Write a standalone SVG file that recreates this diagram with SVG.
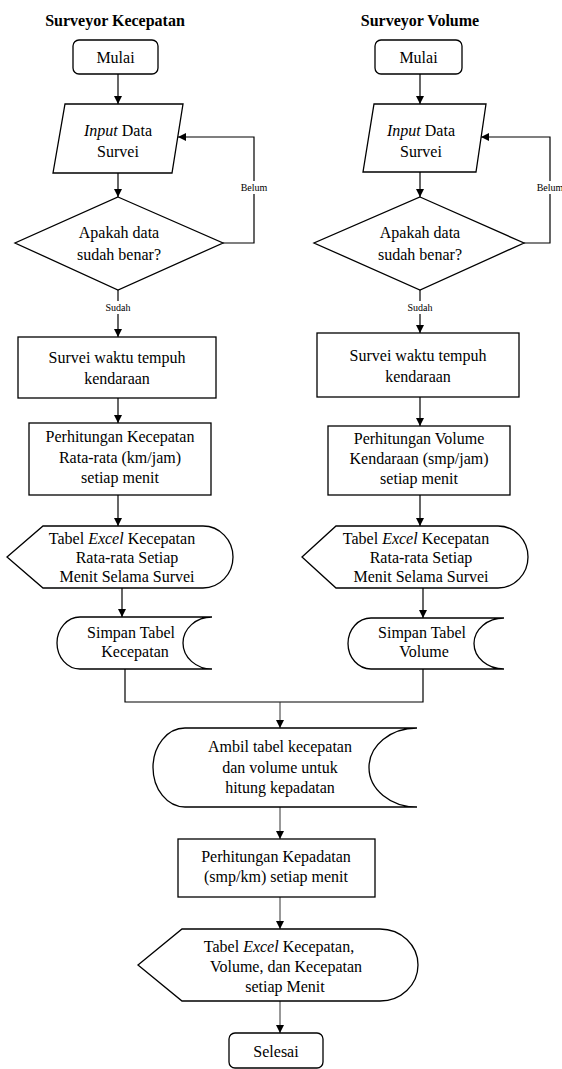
<svg xmlns="http://www.w3.org/2000/svg" width="562" height="1069" viewBox="0 0 562 1069">
<style>
.s{fill:#fff;stroke:#000;stroke-width:1.3}
.c{fill:none;stroke:#000;stroke-width:1.2}
.c2{fill:none;stroke:#333;stroke-width:1}
text{font-family:'Liberation Serif','DejaVu Serif',serif;font-size:16px;fill:#000;text-anchor:middle}
.t{font-weight:bold}
.sm{font-size:10px}
.lb{fill:#fff;stroke:none}
</style>
<defs>
<marker id="ah" markerWidth="8" markerHeight="8" refX="8" refY="4" orient="auto" markerUnits="userSpaceOnUse">
<path d="M0,0 L8,4 L0,8 Z" fill="#000"/>
</marker>
</defs>

<g font-family="Liberation Serif, DejaVu Serif, serif">
<text class="t" x="115" y="26">Surveyor Kecepatan</text>
<text class="t" x="420" y="26">Surveyor Volume</text>

<g id="connectors">
<line class="c" x1="118" y1="74" x2="118" y2="104" marker-end="url(#ah)"/>
<line class="c" x1="118" y1="173" x2="118" y2="197" marker-end="url(#ah)"/>
<polyline class="c" points="223,243 254,243 254,137 178,137" marker-end="url(#ah)"/>
<line class="c" x1="118" y1="290" x2="118" y2="337" marker-end="url(#ah)"/>
<line class="c" x1="118" y1="398" x2="118" y2="423" marker-end="url(#ah)"/>
<line class="c" x1="118" y1="495" x2="118" y2="526" marker-end="url(#ah)"/>
<line class="c" x1="122" y1="588" x2="122" y2="617" marker-end="url(#ah)"/>

<line class="c" x1="420" y1="74" x2="420" y2="104" marker-end="url(#ah)"/>
<line class="c" x1="420" y1="172" x2="420" y2="197" marker-end="url(#ah)"/>
<polyline class="c" points="524,243 550,243 550,137 481,137" marker-end="url(#ah)"/>
<line class="c" x1="420" y1="290" x2="420" y2="333" marker-end="url(#ah)"/>
<line class="c" x1="420" y1="397" x2="420" y2="426" marker-end="url(#ah)"/>
<line class="c" x1="420" y1="495" x2="420" y2="526" marker-end="url(#ah)"/>
<line class="c" x1="423" y1="588" x2="423" y2="618" marker-end="url(#ah)"/>

<polyline class="c" points="125,669 125,702 423,702 423,669"/>
<line class="c2" x1="280" y1="702" x2="280" y2="728" marker-end="url(#ah)"/>
<line class="c2" x1="280" y1="807" x2="280" y2="839" marker-end="url(#ah)"/>
<line class="c2" x1="280" y1="897" x2="280" y2="929" marker-end="url(#ah)"/>
<line class="c2" x1="280" y1="1001" x2="280" y2="1033" marker-end="url(#ah)"/>

<rect class="lb" x="238" y="181" width="32" height="13"/>
<text class="sm" x="254" y="191">Belum</text>
<rect class="lb" x="104" y="301" width="28" height="13"/>
<text class="sm" x="118" y="311">Sudah</text>
<rect class="lb" x="534" y="181" width="32" height="13"/>
<text class="sm" x="550" y="191">Belum</text>
<rect class="lb" x="406" y="301" width="28" height="13"/>
<text class="sm" x="420" y="311">Sudah</text>
</g>

<g id="mulai1">
<rect class="s" x="73" y="40" width="85" height="34" rx="6"/>
<text x="115.5" y="63">Mulai</text>
</g>
<g id="input1">
<polygon class="s" points="65,104 183,104 172,173 53,173"/>
<text x="118" y="136"><tspan font-style="italic">Input</tspan> Data</text>
<text x="118" y="157">Survei</text>
</g>
<g id="cek1">
<polygon class="s" points="118,197 223,243 118,290 15,243"/>
<text x="119" y="238">Apakah data</text>
<text x="119" y="260">sudah benar?</text>
</g>
<g id="survei1">
<rect class="s" x="18" y="337" width="198" height="61"/>
<text x="117" y="363">Survei waktu tempuh</text>
<text x="117" y="384">kendaraan</text>
</g>
<g id="hitung1">
<rect class="s" x="29" y="423" width="182" height="72"/>
<text x="120" y="442">Perhitungan Kecepatan</text>
<text x="120" y="463">Rata-rata (km/jam)</text>
<text x="120" y="483">setiap menit</text>
</g>
<g id="tabel1">
<path class="s" d="M7,557 L43,526 L203,526 A30,31 0 0 1 203,588 L43,588 Z"/>
<text x="122" y="544">Tabel <tspan font-style="italic">Excel</tspan> Kecepatan</text>
<text x="127" y="563">Rata-rata Setiap</text>
<text x="127" y="582">Menit Selama Survei</text>
</g>
<g id="simpan1">
<path class="s" d="M212,617 L80,617 A23,26 0 0 0 80,669 L212,669 A29,26 0 0 1 212,617 Z"/>
<text x="131" y="638">Simpan Tabel</text>
<text x="135" y="657">Kecepatan</text>
</g>

<g id="mulai2">
<rect class="s" x="375" y="40" width="87" height="34" rx="6"/>
<text x="418.5" y="63">Mulai</text>
</g>
<g id="input2">
<polygon class="s" points="374,104 486,104 476,172 363,172"/>
<text x="421" y="136"><tspan font-style="italic">Input</tspan> Data</text>
<text x="421" y="157">Survei</text>
</g>
<g id="cek2">
<polygon class="s" points="420,197 524,243 420,290 314,243"/>
<text x="420" y="238">Apakah data</text>
<text x="420" y="260">sudah benar?</text>
</g>
<g id="survei2">
<rect class="s" x="317" y="333" width="202" height="64"/>
<text x="418" y="361">Survei waktu tempuh</text>
<text x="418" y="382">kendaraan</text>
</g>
<g id="hitung2">
<rect class="s" x="328" y="426" width="182" height="69"/>
<text x="419" y="444">Perhitungan Volume</text>
<text x="419" y="464">Kendaraan (smp/jam)</text>
<text x="419" y="484">setiap menit</text>
</g>
<g id="tabel2">
<path class="s" d="M302,557 L336,526 L498,526 A30,31 0 0 1 498,588 L336,588 Z"/>
<text x="416" y="544">Tabel <tspan font-style="italic">Excel</tspan> Kecepatan</text>
<text x="421" y="563">Rata-rata Setiap</text>
<text x="421" y="582">Menit Selama Survei</text>
</g>
<g id="simpan2">
<path class="s" d="M504,618 L371,618 A23,25.5 0 0 0 371,669 L504,669 A30,25.5 0 0 1 504,618 Z"/>
<text x="422" y="638">Simpan Tabel</text>
<text x="424" y="657">Volume</text>
</g>

<g id="ambil">
<path class="s" d="M417,728 L185,728 A32,39.5 0 0 0 185,807 L417,807 A48,39.5 0 0 1 417,728 Z"/>
<text x="280" y="752">Ambil tabel kecepatan</text>
<text x="280" y="773">dan volume untuk</text>
<text x="280" y="793">hitung kepadatan</text>
</g>
<g id="kepadatan">
<rect class="s" x="178" y="839" width="197" height="58"/>
<text x="276" y="862">Perhitungan Kepadatan</text>
<text x="276" y="882">(smp/km) setiap menit</text>
</g>
<g id="tabel3">
<path class="s" d="M138,965 L182,929 L380,929 A38,36 0 0 1 380,1001 L182,1001 Z"/>
<text x="279" y="952">Tabel <tspan font-style="italic">Excel</tspan> Kecepatan,</text>
<text x="286" y="972">Volume, dan Kecepatan</text>
<text x="285" y="992">setiap Menit</text>
</g>
<g id="selesai">
<rect class="s" x="229" y="1033" width="94" height="35" rx="6"/>
<text x="276" y="1057">Selesai</text>
</g>
</g>
</svg>
